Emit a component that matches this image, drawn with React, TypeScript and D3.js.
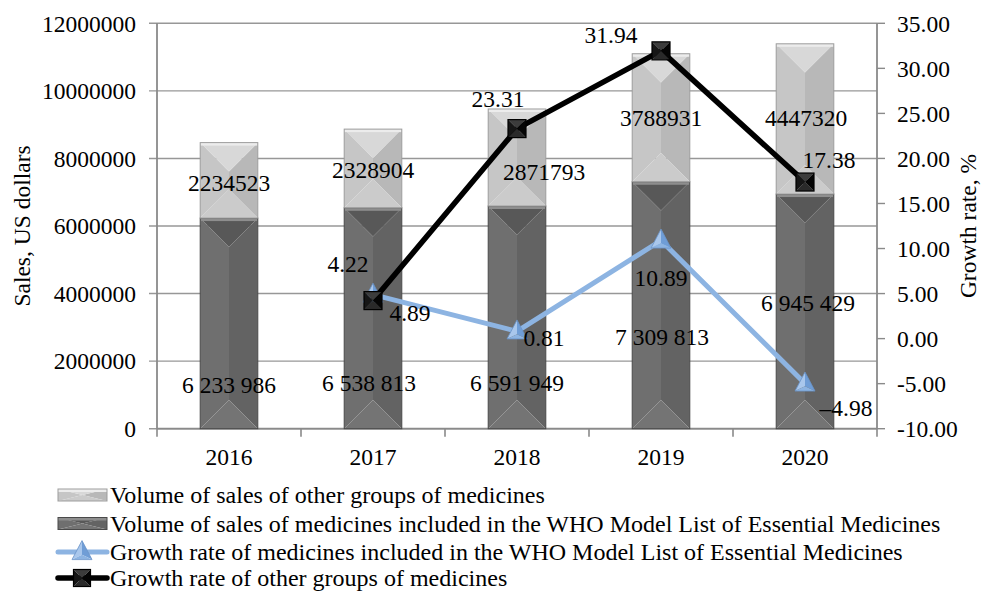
import React from 'react';
import * as d3 from 'd3';

const years = ['2016', '2017', '2018', '2019', '2020'];
const whoSales = [6233986, 6538813, 6591949, 7309813, 6945429];
const otherSales = [2234523, 2328904, 2871793, 3788931, 4447320];
const growthYears = ['2017', '2018', '2019', '2020'];
const whoGrowth = [4.89, 0.81, 10.89, -4.98];
const otherGrowth = [4.22, 23.31, 31.94, 17.38];
const salesTicks = [0, 2000000, 4000000, 6000000, 8000000, 10000000, 12000000];
const growthTicks = [-10, -5, 0, 5, 10, 15, 20, 25, 30, 35];
const legendLabels = [
  'Volume of sales of other groups of medicines',
  'Volume of sales of medicines included in the WHO Model List of Essential Medicines',
  'Growth rate of medicines included in the WHO Model List of Essential Medicines',
  'Growth rate of other groups of medicines',
];

// label placement offsets (pixels), kept apart from the data
const whoLabelOffset = [[0, -44], [-4, -46], [0, -46], [1, -92], [3, -126]];
const otherLabelOffset = [[0, 40], [0, 41], [27, 63], [0, 64], [1, 74]];
const whoGrowthLabelOffset = [[37, 18], [27, 6], [0, 37], [41, 24]];
const otherGrowthLabelOffset = [[-25, -37], [-19, -30], [-50, -16], [24, -22]];
const legendRowY = [495, 523.5, 552, 578];

const W = 981;
const H = 593;
const L = 157;
const R = 877;
const T = 23.3;
const B = 428.7;
const FONT = '"Liberation Serif", "Times New Roman", serif';
const FS = 23.5;

const lightPal = { top: '#d8d8d8', left: '#c6c6c6', right: '#b8b8b8', bottom: '#cbcbcb', edge: '#9d9d9d', hi: '#ececec' };
const darkPal = { top: '#585858', left: '#6f6f6f', right: '#636363', bottom: '#747474', edge: '#4a4a4a', hi: '#8e8e8e' };

function Bevel({ x, y, w, h, pal }: any) {
  const cx = x + w / 2;
  const d = Math.min(w / 2, h / 2);
  const p = (pts: number[][]) => pts.map((q) => q.join(',')).join(' ');
  return (
    <g>
      <polygon points={p([[x, y], [cx, y + d], [cx, y + h - d], [x, y + h]])} fill={pal.left} />
      <polygon points={p([[x + w, y], [cx, y + d], [cx, y + h - d], [x + w, y + h]])} fill={pal.right} />
      <polygon points={p([[x, y], [x + w, y], [cx, y + d]])} fill={pal.top} />
      <polygon points={p([[x, y + h], [x + w, y + h], [cx, y + h - d]])} fill={pal.bottom} />
      <rect x={x} y={y} width={w} height={Math.min(3, h)} fill={pal.hi} />
      <rect x={x} y={y} width={w} height={h} fill="none" stroke={pal.edge} strokeWidth={1} />
    </g>
  );
}

function Triangle({ x, y, s }: any) {
  const w = s;
  const h = s * 0.95;
  const top = [x, y - h * 0.6];
  const bl = [x - w / 2, y + h * 0.4];
  const br = [x + w / 2, y + h * 0.4];
  const c = [x, y + h * 0.15];
  const p = (pts: number[][]) => pts.map((q) => q.join(',')).join(' ');
  return (
    <g>
      <polygon points={p([top, bl, c])} fill="#a9c7ec" />
      <polygon points={p([top, br, c])} fill="#6f9dd6" />
      <polygon points={p([bl, br, c])} fill="#8db4e2" />
      <polygon points={p([top, bl, br])} fill="none" stroke="#6a93c8" strokeWidth={0.8} />
    </g>
  );
}

function Square({ x, y, s }: any) {
  const h = s / 2;
  const p = (pts: number[][]) => pts.map((q) => q.join(',')).join(' ');
  const tl = [x - h, y - h], tr = [x + h, y - h], bl = [x - h, y + h], br = [x + h, y + h], c = [x, y];
  return (
    <g>
      <polygon points={p([tl, tr, c])} fill="#3c3c3c" />
      <polygon points={p([bl, br, c])} fill="#2a2a2a" />
      <polygon points={p([tl, bl, c])} fill="#161616" />
      <polygon points={p([tr, br, c])} fill="#050505" />
      <rect x={x - h} y={y - h} width={s} height={s} fill="none" stroke="#000" strokeWidth={1.2} />
    </g>
  );
}

const fmtSpace = (v: number) => d3.format(',')(v).replace(/,/g, ' ');
const fmtGrowth = (v: number) => (v < 0 ? '\u2013' + Math.abs(v).toFixed(2) : v.toFixed(2));

export default function App() {
  const x = d3.scaleBand<string>().domain(years).range([L, R]).paddingInner(0.6).paddingOuter(0.3);
  const bw = x.bandwidth();
  const cxOf = (yr: string) => (x(yr) as number) + bw / 2;
  const yL = d3.scaleLinear().domain([0, 12000000]).range([B, T]);
  const yR = d3.scaleLinear().domain([-10, 35]).range([B, T]);

  const lineGen = d3
    .line<[string, number]>()
    .x((d) => cxOf(d[0]))
    .y((d) => yR(d[1]));

  const whoPts: [string, number][] = growthYears.map((yr, i) => [yr, whoGrowth[i]]);
  const otherPts: [string, number][] = growthYears.map((yr, i) => [yr, otherGrowth[i]]);
  const step = x.step();

  return (
    <svg
      width={W}
      height={H}
      style={{ position: 'absolute', left: 0, top: 0, background: '#fff' }}
      fontFamily={FONT}
      fontSize={FS}
    >
      <rect x={0} y={0} width={W} height={H} fill="#fff" />
      {/* gridlines */}
      {salesTicks.map((t) => (
        <line key={'g' + t} x1={L - 8} x2={R} y1={yL(t)} y2={yL(t)} stroke="#979797" strokeWidth={1.4} />
      ))}
      {/* axes */}
      <line x1={L} x2={L} y1={T} y2={B} stroke="#8a8a8a" strokeWidth={1.8} />
      <line x1={R} x2={R} y1={T} y2={B} stroke="#8a8a8a" strokeWidth={1.8} />
      <line x1={L} x2={R} y1={B} y2={B} stroke="#8a8a8a" strokeWidth={1.8} />
      {years.concat(['end']).map((_, i) => (
        <line key={'xt' + i} x1={L + step * i} x2={L + step * i} y1={B} y2={B + 8} stroke="#8a8a8a" strokeWidth={1.6} />
      ))}
      {growthTicks.map((t) => (
        <line key={'rt' + t} x1={R} x2={R + 8} y1={yR(t)} y2={yR(t)} stroke="#8a8a8a" strokeWidth={1.4} />
      ))}
      {/* left tick labels */}
      {salesTicks.map((t) => (
        <text key={'lt' + t} x={136} y={yL(t)} dy="0.35em" textAnchor="end">
          {String(t)}
        </text>
      ))}
      {growthTicks.map((t) => (
        <text key={'rl' + t} x={897} y={yR(t)} dy="0.35em" textAnchor="start">
          {t.toFixed(2)}
        </text>
      ))}
      {years.map((yr) => (
        <text key={'xl' + yr} x={cxOf(yr)} y={457} dy="0.35em" textAnchor="middle">
          {yr}
        </text>
      ))}
      <text transform={`translate(22,${(T + B) / 2}) rotate(-90)`} textAnchor="middle" dy="0.35em">
        Sales, US dollars
      </text>
      <text transform={`translate(968,${(T + B) / 2}) rotate(-90)`} textAnchor="middle" dy="0.35em">
        Growth rate, %
      </text>

      {/* bars */}
      {years.map((yr, i) => {
        const bx = x(yr) as number;
        const y0 = yL(0);
        const y1 = yL(whoSales[i]);
        const y2 = yL(whoSales[i] + otherSales[i]);
        return (
          <g key={'b' + yr}>
            <Bevel x={bx} y={y1} w={bw} h={y0 - y1} pal={darkPal} />
            <Bevel x={bx} y={y2} w={bw} h={y1 - y2} pal={lightPal} />
          </g>
        );
      })}

      {/* lines */}
      <path d={lineGen(whoPts) as string} fill="none" stroke="#8db4e2" strokeWidth={5} strokeLinejoin="round" />
      {whoPts.map((d) => (
        <Triangle key={'tr' + d[0]} x={cxOf(d[0])} y={yR(d[1])} s={20} />
      ))}
      <path d={lineGen(otherPts) as string} fill="none" stroke="#000" strokeWidth={5.5} strokeLinejoin="round" />
      {otherPts.map((d) => (
        <Square key={'sq' + d[0]} x={cxOf(d[0])} y={yR(d[1])} s={18} />
      ))}

      {/* labels */}
      {years.map((yr, i) => (
        <text key={'wl' + yr} x={cxOf(yr) + whoLabelOffset[i][0]} y={yL(0) + whoLabelOffset[i][1]} dy="0.35em" textAnchor="middle">
          {fmtSpace(whoSales[i])}
        </text>
      ))}
      {years.map((yr, i) => (
        <text
          key={'ol' + yr}
          x={cxOf(yr) + otherLabelOffset[i][0]}
          y={yL(whoSales[i] + otherSales[i]) + otherLabelOffset[i][1]}
          dy="0.35em"
          textAnchor="middle"
        >
          {String(otherSales[i])}
        </text>
      ))}
      {whoPts.map((d, i) => (
        <text key={'wg' + d[0]} x={cxOf(d[0]) + whoGrowthLabelOffset[i][0]} y={yR(d[1]) + whoGrowthLabelOffset[i][1]} dy="0.35em" textAnchor="middle">
          {fmtGrowth(d[1])}
        </text>
      ))}
      {otherPts.map((d, i) => (
        <text key={'og' + d[0]} x={cxOf(d[0]) + otherGrowthLabelOffset[i][0]} y={yR(d[1]) + otherGrowthLabelOffset[i][1]} dy="0.35em" textAnchor="middle">
          {fmtGrowth(d[1])}
        </text>
      ))}

      {/* legend */}
      {legendLabels.map((lab, i) => {
        const ly = legendRowY[i];
        return (
          <g key={'lg' + i}>
            {i === 0 && <Bevel x={58} y={ly - 6} w={49} h={12} pal={lightPal} />}
            {i === 1 && <Bevel x={58} y={ly - 6} w={49} h={12} pal={darkPal} />}
            {i === 2 && (
              <g>
                <line x1={58} x2={107} y1={ly} y2={ly} stroke="#8db4e2" strokeWidth={5} strokeLinecap="round" />
                <Triangle x={82} y={ly} s={20} />
              </g>
            )}
            {i === 3 && (
              <g>
                <line x1={58} x2={107} y1={ly} y2={ly} stroke="#000" strokeWidth={5.5} strokeLinecap="round" />
                <Square x={82} y={ly} s={17} />
              </g>
            )}
            <text x={110} y={ly} dy="0.35em" fontSize={24}>
              {lab}
            </text>
          </g>
        );
      })}
    </svg>
  );
}
